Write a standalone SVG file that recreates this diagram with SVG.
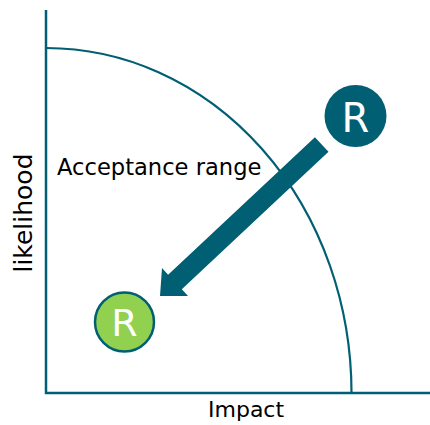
<svg xmlns="http://www.w3.org/2000/svg" width="430" height="425" viewBox="0 0 430 425">
  <style>
    .ax { stroke: #005F73; stroke-width: 2.5; fill: none; }
    .arc { stroke: #005F73; stroke-width: 2.2; fill: none; }
    .lbl { font-family: "DejaVu Sans", sans-serif; fill: #000000; }
    .rt { font-family: "DejaVu Sans", sans-serif; fill: #FFFFFF; text-anchor: middle; }
  </style>
  <rect width="430" height="425" fill="#FFFFFF"/>
  <g id="axes">
    <path class="ax" d="M46,10 V393 H430"/>
    <text class="lbl" x="208" y="417" font-size="22">Impact</text>
    <text class="lbl" font-size="25" text-anchor="middle" transform="translate(32,213) rotate(-90)">likelihood</text>
  </g>
  <g id="acceptance-range">
    <path class="arc" d="M46,48 A305.5,345 0 0 1 351.5,393"/>
    <text class="lbl" x="57" y="175" font-size="22.6">Acceptance range</text>
  </g>
  <g id="connectors">
    <polygon fill="#005F73" points="314.9,137.2 328.5,151.8 181.8,289.3 188,295.9 160,296 162,268.1 168.1,274.7"/>
  </g>
  <g id="risk-before">
    <circle cx="355.5" cy="116" r="31" fill="#005F73"/>
    <text class="rt" x="355.5" y="132" font-size="40">R</text>
  </g>
  <g id="risk-after">
    <circle cx="124.5" cy="322" r="29.5" fill="#92D050" stroke="#005F73" stroke-width="2.5"/>
    <text class="rt" x="124.5" y="336" font-size="38">R</text>
  </g>
</svg>
